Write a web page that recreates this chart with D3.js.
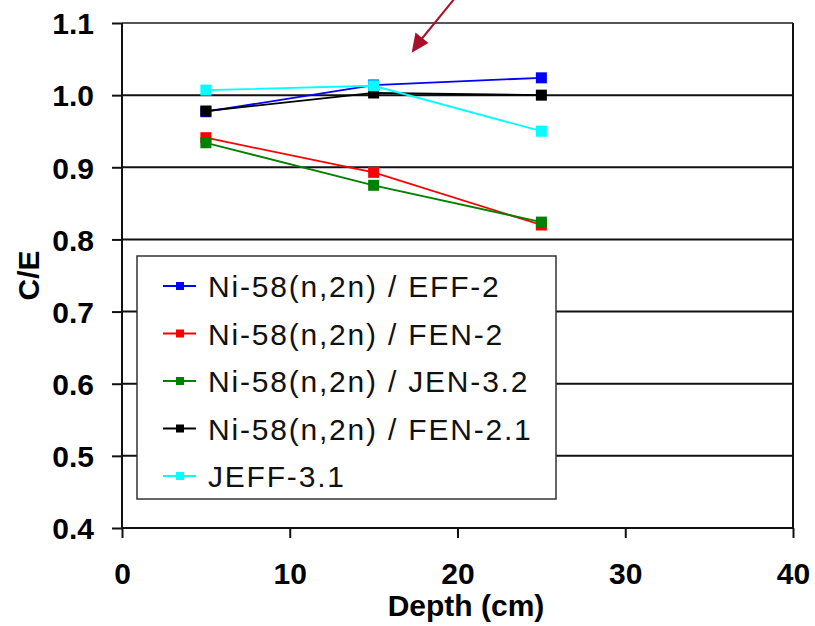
<!DOCTYPE html>
<html>
<head>
<meta charset="utf-8">
<script src="https://cdn.jsdelivr.net/npm/d3@7"></script>
<style>
  body { margin: 0; background: #fff; }
  svg { display: block; font-family: "Liberation Sans", Arial, sans-serif; }
  .axis text { font-weight: bold; font-size: 30px; fill: #000; }
  .axis path, .axis line { stroke: #111; stroke-width: 2; }
</style>
</head>
<body>
<div id="chart"></div>
<script>
// depth points (cm)
const depths = [5, 15, 25];

// C/E per library
const eff2 = [0.977, 1.014, 1.024];
const fen2 = [0.941, 0.893, 0.82];
const jen32 = [0.934, 0.875, 0.824];
const fen21 = [0.978, 1.003, 1.0];
const jeff31 = [1.007, 1.013, 0.95];

const seriesNames = [
  "Ni-58(n,2n) / EFF-2",
  "Ni-58(n,2n) / FEN-2",
  "Ni-58(n,2n) / JEN-3.2",
  "Ni-58(n,2n) / FEN-2.1",
  "JEFF-3.1",
];
const seriesColors = ["#0000ff", "#ff0000", "#008000", "#000000", "#00ffff"];

const xTicks = [0, 10, 20, 30, 40];
const yTicks = [0.4, 0.5, 0.6, 0.7, 0.8, 0.9, 1.0, 1.1];

const series = [eff2, fen2, jen32, fen21, jeff31].map((vals, i) => ({
  name: seriesNames[i],
  color: seriesColors[i],
  values: vals.map((v, j) => ({ x: depths[j], y: v })),
}));

const width = 815, height = 626;
const margin = { top: 23, right: 22, bottom: 98, left: 122 };

const svg = d3.select("#chart").append("svg")
  .attr("width", width)
  .attr("height", height);

const innerW = width - margin.left - margin.right;
const innerH = height - margin.top - margin.bottom;

const chart = svg.append("g")
  .attr("transform", `translate(${margin.left},${margin.top})`);

const xScale = d3.scaleLinear().domain([0, 40]).range([0, innerW]);
const yScale = d3.scaleLinear().domain([0.4, 1.1]).range([innerH, 0]);

// gridlines
chart.append("g")
  .selectAll("line")
  .data(yTicks)
  .join("line")
  .attr("x1", 0)
  .attr("x2", innerW)
  .attr("y1", d => yScale(d))
  .attr("y2", d => yScale(d))
  .attr("stroke", (d, i) => i === yTicks.length - 1 ? "#555" : "#111")
  .attr("stroke-width", 2);

// right border
chart.append("line")
  .attr("x1", innerW).attr("x2", innerW)
  .attr("y1", 0).attr("y2", innerH)
  .attr("stroke", "#111").attr("stroke-width", 2);

// axes
chart.append("g")
  .attr("class", "axis")
  .call(d3.axisLeft(yScale).tickValues(yTicks).tickSize(10).tickPadding(18)
    .tickFormat(d3.format(".1f")))
  .call(g => g.select(".domain").attr("d", `M0,0V${innerH}`))
  .selectAll("text").attr("dy", "0.36em");

chart.append("g")
  .attr("class", "axis")
  .attr("transform", `translate(0,${innerH})`)
  .call(d3.axisBottom(xScale).tickValues(xTicks).tickSize(10).tickPadding(25)
    .tickFormat(d3.format("d")))
  .call(g => g.select(".domain").attr("d", `M0,0H${innerW}`));

// axis titles
svg.append("text")
  .attr("x", 466)
  .attr("y", 616)
  .attr("text-anchor", "middle")
  .attr("font-weight", "bold")
  .attr("font-size", 30)
  .text("Depth (cm)");

svg.append("text")
  .attr("transform", `translate(39,${margin.top + innerH / 2}) rotate(-90)`)
  .attr("text-anchor", "middle")
  .attr("font-weight", "bold")
  .attr("font-size", 30)
  .text("C/E");

// lines and markers
const line = d3.line().x(d => xScale(d.x)).y(d => yScale(d.y));
const msize = 11;

series.forEach(s => {
  chart.append("path")
    .datum(s.values)
    .attr("fill", "none")
    .attr("stroke", s.color)
    .attr("stroke-width", 1.8)
    .attr("d", line);
  chart.selectAll(null)
    .data(s.values)
    .join("rect")
    .attr("x", d => xScale(d.x) - msize / 2)
    .attr("y", d => yScale(d.y) - msize / 2)
    .attr("width", msize)
    .attr("height", msize)
    .attr("fill", s.color);
});

// legend
const legend = svg.append("g").attr("transform", "translate(137,256)");
legend.append("rect")
  .attr("width", 419)
  .attr("height", 243)
  .attr("fill", "#fff")
  .attr("stroke", "#333")
  .attr("stroke-width", 1.5);

const rows = legend.selectAll(".row")
  .data(series)
  .join("g")
  .attr("class", "row")
  .attr("transform", (d, i) => `translate(0,${30 + i * 47.5})`);

rows.append("line")
  .attr("x1", 26).attr("x2", 59)
  .attr("stroke", d => d.color)
  .attr("stroke-width", 1.8);
rows.append("rect")
  .attr("x", 39).attr("y", -4)
  .attr("width", 8).attr("height", 8)
  .attr("fill", d => d.color);
rows.append("text")
  .attr("x", 71)
  .attr("y", 11)
  .attr("font-size", 30)
  .attr("letter-spacing", 1.8)
  .attr("fill", "#111")
  .text(d => d.name);

// annotation arrow
const arrowColor = "#a6122c";
svg.append("line")
  .attr("x1", 455).attr("y1", -2)
  .attr("x2", 420).attr("y2", 41)
  .attr("stroke", arrowColor)
  .attr("stroke-width", 2);
svg.append("path")
  .attr("d", "M411.7,52.7 L415.5,32.5 L428.5,43 Z")
  .attr("fill", arrowColor);
</script>
</body>
</html>
